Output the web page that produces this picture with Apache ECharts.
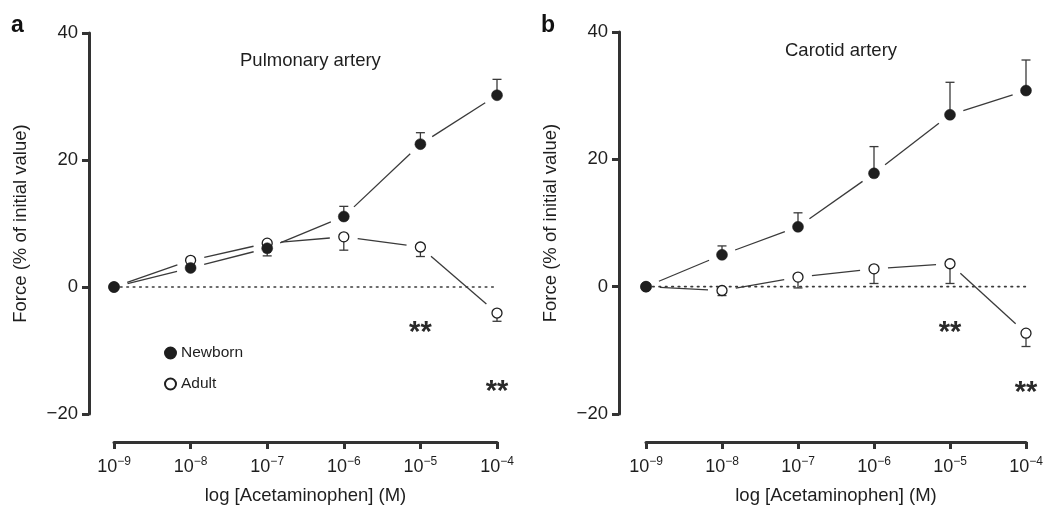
<!DOCTYPE html>
<html>
<head>
<meta charset="utf-8">
<script src="https://cdn.jsdelivr.net/npm/echarts@6/dist/echarts.min.js"></script>
<style>
  html, body { margin: 0; padding: 0; background: #fff; }
  #main { width: 1046px; height: 505px; }
</style>
</head>
<body>
<div id="main"></div>
<script>
// log10 of acetaminophen concentration (M)
var conc = [-9, -8, -7, -6, -5, -4];
var yTicks = [-20, 0, 20, 40];

// pulmonary artery
var pulmNewborn = [0, 3.0, 6.1, 11.1, 22.5, 30.2];
var pulmNewbornErr = [null, null, 4.9, 12.7, 24.3, 32.7];
var pulmAdult = [0, 4.2, 6.9, 7.9, 6.3, -4.1];
var pulmAdultErr = [null, null, null, 5.8, 4.8, -5.4];

// carotid artery
var carNewborn = [0, 5.0, 9.4, 17.8, 27.0, 30.8];
var carNewbornErr = [null, 6.4, 11.6, 22.0, 32.1, 35.6];
var carAdult = [0, -0.6, 1.5, 2.8, 3.6, -7.3];
var carAdultErr = [null, -1.4, -0.2, 0.5, 0.5, -9.4];

// significance marks
var starX = [-5, -4];
var pulmStarY = [-6.5, -15.8];
var carStarY = [-6.5, -15.9];

var zeroLine = [[-9.25, 0], [-4, 0]];

var FONT = 'Liberation Sans, Arial, Helvetica, sans-serif';
var INK = '#1e1e1e';
var LINE = '#3a3a3a';

var myChart = echarts.init(document.getElementById('main'));

function pairs(xs, ys) {
    return xs.map(function (x, i) { return [x, ys[i]]; });
}

function segs(xs, ys) {
    var out = [];
    for (var i = 0; i < xs.length - 1; i++) {
        out.push([xs[i], ys[i], xs[i + 1], ys[i + 1]]);
    }
    return out;
}

function errRows(xs, ys, es) {
    var out = [];
    xs.forEach(function (x, i) {
        if (es[i] !== null) out.push([x, ys[i], es[i]]);
    });
    return out;
}

// connecting lines, stopped short of the markers
function segSeries(idx, data) {
    return {
        type: 'custom',
        xAxisIndex: idx, yAxisIndex: idx,
        silent: true,
        z: 2,
        data: data,
        renderItem: function (params, api) {
            var a = api.coord([api.value(0), api.value(1)]);
            var b = api.coord([api.value(2), api.value(3)]);
            var dx = b[0] - a[0], dy = b[1] - a[1];
            var len = Math.sqrt(dx * dx + dy * dy);
            var g = 14;
            var ux = dx / len, uy = dy / len;
            return {
                type: 'line',
                shape: { x1: a[0] + ux * g, y1: a[1] + uy * g, x2: b[0] - ux * g, y2: b[1] - uy * g },
                style: { stroke: LINE, lineWidth: 1.3 }
            };
        }
    };
}

function errSeries(idx, data) {
    return {
        type: 'custom',
        xAxisIndex: idx, yAxisIndex: idx,
        silent: true,
        z: 3,
        data: data,
        renderItem: function (params, api) {
            var a = api.coord([api.value(0), api.value(1)]);
            var b = api.coord([api.value(0), api.value(2)]);
            return {
                type: 'group',
                children: [
                    { type: 'line', shape: { x1: a[0], y1: a[1], x2: b[0], y2: b[1] }, style: { stroke: LINE, lineWidth: 1.3 } },
                    { type: 'line', shape: { x1: b[0] - 4.5, y1: b[1], x2: b[0] + 4.5, y2: b[1] }, style: { stroke: LINE, lineWidth: 1.3 } }
                ]
            };
        }
    };
}

function markerSeries(idx, name, data, filled) {
    return {
        name: name,
        type: 'scatter',
        xAxisIndex: idx, yAxisIndex: idx,
        symbol: 'circle',
        symbolSize: filled ? 11 : 10,
        z: 5,
        clip: false,
        data: data,
        itemStyle: filled
            ? { color: INK, borderColor: INK, borderWidth: 0.5, opacity: 1 }
            : { color: '#fff', borderColor: INK, borderWidth: 1.3, opacity: 1 }
    };
}

function starSeries(idx, ys) {
    return {
        type: 'scatter',
        xAxisIndex: idx, yAxisIndex: idx,
        symbolSize: 0,
        silent: true,
        clip: false,
        data: pairs(starX, ys),
        itemStyle: { opacity: 1 },
        label: {
            show: true, position: 'inside', formatter: '**', offset: [0, 5],
            fontFamily: FONT, fontSize: 29, fontWeight: 'bold', color: '#2a2a2a', opacity: 1
        }
    };
}

function zeroSeries(idx) {
    return {
        type: 'line',
        xAxisIndex: idx, yAxisIndex: idx,
        silent: true,
        symbol: 'none',
        clip: false,
        z: 1,
        data: zeroLine,
        lineStyle: { color: LINE, width: 1.6, type: [1.6, 4.8], cap: 'round' }
    };
}

function xAxisOpt(idx) {
    return {
        gridIndex: idx,
        type: 'value',
        min: -9, max: -4, interval: 1,
        offset: 28,
        splitLine: { show: false },
        axisLine: { onZero: false, lineStyle: { color: '#333', width: 3 } },
        axisTick: { length: 7, lineStyle: { color: '#333', width: 3 } },
        axisLabel: {
            margin: 14,
            fontFamily: FONT, fontSize: 18, color: INK,
            formatter: function (v) { return '10{s|\u2212' + Math.abs(v) + '}'; },
            rich: { s: { fontFamily: FONT, fontSize: 12, color: INK, padding: [0, 0, 10, 0] } }
        },
        name: 'log [Acetaminophen] (M)',
        nameLocation: 'middle',
        nameGap: 44,
        nameTextStyle: { fontFamily: FONT, fontSize: 18.5, color: INK }
    };
}

function yAxisOpt(idx, off) {
    return {
        gridIndex: idx,
        type: 'value',
        min: -20, max: 40, interval: 20,
        offset: off,
        splitLine: { show: false },
        axisLine: { show: true, onZero: false, lineStyle: { color: '#333', width: 3 } },
        axisTick: { show: true, length: 7, lineStyle: { color: '#333', width: 3 } },
        axisLabel: {
            margin: 11,
            fontFamily: FONT, fontSize: 18.5, color: INK,
            formatter: function (v) { return v < 0 ? '\u2212' + Math.abs(v) : String(v); }
        },
        name: 'Force (% of initial value)',
        nameLocation: 'middle',
        nameGap: 59,
        nameTextStyle: { fontFamily: FONT, fontSize: 18.5, color: INK }
    };
}

var option = {
    animation: false,
    backgroundColor: '#fff',
    grid: [
        { left: 114, width: 383, top: 33, bottom: 91, outerBoundsMode: 'none' },
        { left: 646, width: 380, top: 32, bottom: 91, outerBoundsMode: 'none' }
    ],
    xAxis: [xAxisOpt(0), xAxisOpt(1)],
    yAxis: [yAxisOpt(0, 25), yAxisOpt(1, 27)],
    legend: {
        data: ['Newborn', 'Adult'],
        orient: 'vertical',
        left: 159, top: 340,
        itemWidth: 11, itemHeight: 11,
        itemGap: 15,
        icon: 'circle',
        textStyle: { fontFamily: FONT, fontSize: 15.5, color: INK }
    },
    graphic: [
        { type: 'text', left: 11, top: 14, style: { text: 'a', font: 'bold 23px ' + FONT, fill: '#111' } },
        { type: 'text', left: 541, top: 14, style: { text: 'b', font: 'bold 23px ' + FONT, fill: '#111' } },
        { type: 'text', left: 240, top: 51, style: { text: 'Pulmonary artery', font: '18.5px ' + FONT, fill: INK } },
        { type: 'text', left: 785, top: 41, style: { text: 'Carotid artery', font: '18.5px ' + FONT, fill: INK } }
    ],
    series: [
        zeroSeries(0),
        segSeries(0, segs(conc, pulmNewborn)),
        segSeries(0, segs(conc, pulmAdult)),
        errSeries(0, errRows(conc, pulmNewborn, pulmNewbornErr)),
        errSeries(0, errRows(conc, pulmAdult, pulmAdultErr)),
        markerSeries(0, 'Adult', pairs(conc, pulmAdult), false),
        markerSeries(0, 'Newborn', pairs(conc, pulmNewborn), true),
        starSeries(0, pulmStarY),

        zeroSeries(1),
        segSeries(1, segs(conc, carNewborn)),
        segSeries(1, segs(conc, carAdult)),
        errSeries(1, errRows(conc, carNewborn, carNewbornErr)),
        errSeries(1, errRows(conc, carAdult, carAdultErr)),
        markerSeries(1, 'Adult', pairs(conc, carAdult), false),
        markerSeries(1, 'Newborn', pairs(conc, carNewborn), true),
        starSeries(1, carStarY)
    ]
};

myChart.setOption(option);
</script>
</body>
</html>
